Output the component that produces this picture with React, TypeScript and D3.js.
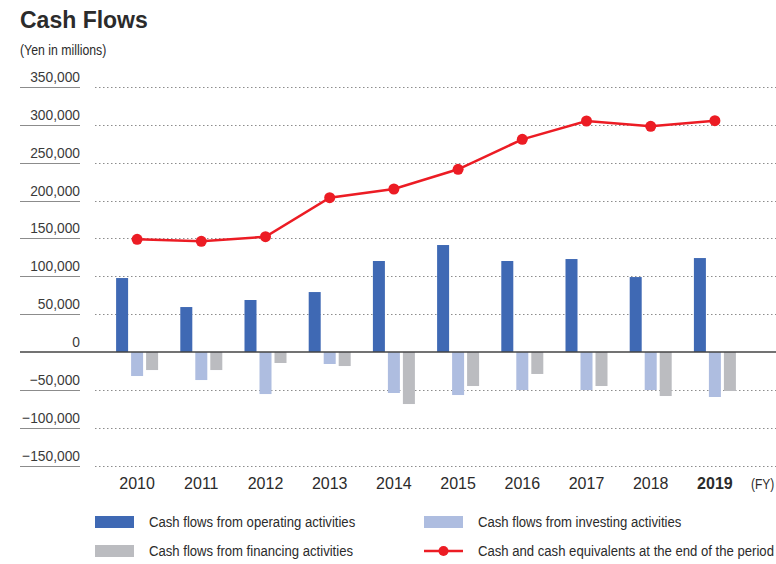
import { useEffect, useRef } from "react";
import * as d3 from "d3";

const years = ["2010", "2011", "2012", "2013", "2014", "2015", "2016", "2017", "2018", "2019"];
const operating = [97700, 59400, 68700, 79200, 120200, 141300, 120200, 122800, 99000, 124100];
const investing = [-31700, -37000, -55500, -15800, -54100, -56800, -50200, -50200, -50200, -59400];
const financing = [-23800, -23800, -14500, -18500, -68700, -44900, -29000, -44900, -58100, -51500];
const cashEnd = [148900, 146200, 152300, 203800, 215300, 241300, 280900, 305100, 298100, 305500];
const yTicks = [350000, 300000, 250000, 200000, 150000, 100000, 50000, 0, -50000, -100000, -150000];

const seriesNames = ["operating", "investing", "financing"];
const colors: Record<string, string> = {
  operating: "#3f69b4",
  investing: "#aebde0",
  financing: "#bbbcc0",
  cash: "#ec1c24",
};

export default function App() {
  const ref = useRef<SVGSVGElement>(null);

  useEffect(() => {
    document.body.style.margin = "0";
    if (!ref.current) return;
    const svg = d3.select(ref.current);
    svg.selectAll("*").remove();

    const width = 776;
    const font = "'Liberation Sans', Arial, sans-serif";
    const textColor = "#2b2b2b";

    // condensed-looking text (no narrow font installed)
    const narrowText = (
      sel: d3.Selection<any, unknown, null, undefined>,
      x: number,
      yy: number,
      size: number,
      label: string,
      sx = 0.86
    ) =>
      sel
        .append("text")
        .attr("transform", `translate(${x},${yy}) scale(${sx},1)`)
        .style("font-family", font)
        .style("font-size", `${size}px`)
        .attr("fill", textColor)
        .text(label);

    const x = d3.scaleBand().domain(years).range([105, 747]).padding(0);
    const y = d3.scaleLinear().domain([-150000, 350000]).range([465.6, 87]);
    const inner = d3
      .scaleBand()
      .domain(seriesNames)
      .range([0, 42])
      .paddingInner(0.2)
      .paddingOuter(0);
    const center = (yr: string) => (x(yr) || 0) + x.bandwidth() / 2;

    // title
    svg
      .append("text")
      .attr("x", 20)
      .attr("y", 28)
      .style("font-family", font)
      .style("font-weight", "bold")
      .style("font-size", "23px")
      .attr("fill", textColor)
      .text("Cash Flows");
    narrowText(svg as any, 20, 55, 15, "(Yen in millions)", 0.82);

    // grid + y labels
    const g = svg.append("g");
    yTicks.forEach((t) => {
      const yy = Math.round(y(t)) + 0.5;
      if (t !== 0) {
        g.append("line")
          .attr("x1", 20)
          .attr("x2", 80)
          .attr("y1", yy)
          .attr("y2", yy)
          .attr("stroke", "#8c8c8c")
          .attr("stroke-width", 1.2);
        g.append("line")
          .attr("x1", 95)
          .attr("x2", width)
          .attr("y1", yy)
          .attr("y2", yy)
          .attr("stroke", "#8c8c8c")
          .attr("stroke-width", 1)
          .attr("stroke-dasharray", "1.5,2.5");
      }
      g.append("text")
        .attr("transform", `translate(80,${yy - 6}) scale(0.92,1)`)
        .attr("text-anchor", "end")
        .style("font-family", font)
        .style("font-size", "15px")
        .attr("fill", "#3a3a3a")
        .text(t === 0 ? "0" : d3.format(",")(t));
    });

    // bars
    const barData = years.flatMap((yr, i) => [
      { yr, key: "operating", v: operating[i] },
      { yr, key: "investing", v: investing[i] },
      { yr, key: "financing", v: financing[i] },
    ]);
    svg
      .append("g")
      .selectAll("rect")
      .data(barData)
      .join("rect")
      .attr("x", (d) => center(d.yr) - 21 + (inner(d.key) || 0))
      .attr("y", (d) => y(Math.max(0, d.v)))
      .attr("width", inner.bandwidth())
      .attr("height", (d) => Math.abs(y(d.v) - y(0)))
      .attr("fill", (d) => colors[d.key]);

    // zero line
    svg
      .append("line")
      .attr("x1", 20)
      .attr("x2", width)
      .attr("y1", y(0))
      .attr("y2", y(0))
      .attr("stroke", "#444")
      .attr("stroke-width", 1.3);

    // cash line
    const line = d3
      .line<number>()
      .x((_, i) => center(years[i]))
      .y((d) => y(d));
    svg
      .append("path")
      .datum(cashEnd)
      .attr("d", line)
      .attr("fill", "none")
      .attr("stroke", colors.cash)
      .attr("stroke-width", 2.5);
    svg
      .append("g")
      .selectAll("circle")
      .data(cashEnd)
      .join("circle")
      .attr("cx", (_, i) => center(years[i]))
      .attr("cy", (d) => y(d))
      .attr("r", 5.5)
      .attr("fill", colors.cash);

    // x labels
    svg
      .append("g")
      .selectAll("text")
      .data(years)
      .join("text")
      .attr("x", (d) => center(d))
      .attr("y", 489)
      .attr("text-anchor", "middle")
      .style("font-family", font)
      .style("font-size", "16px")
      .style("font-weight", (d) => (d === "2019" ? "bold" : "normal"))
      .attr("fill", textColor)
      .text((d) => d);
    narrowText(svg as any, 751, 489, 15, "(FY)", 0.8);

    // legend
    const legend = [
      { key: "operating", label: "Cash flows from operating activities", x: 95, y: 522 },
      { key: "investing", label: "Cash flows from investing activities", x: 424, y: 522 },
      { key: "financing", label: "Cash flows from financing activities", x: 95, y: 551 },
      { key: "cash", label: "Cash and cash equivalents at the end of the period", x: 424, y: 551 },
    ];
    const lg = svg.append("g");
    legend.forEach((l) => {
      if (l.key === "cash") {
        lg.append("line")
          .attr("x1", l.x)
          .attr("x2", l.x + 39)
          .attr("y1", l.y)
          .attr("y2", l.y)
          .attr("stroke", colors.cash)
          .attr("stroke-width", 2.5);
        lg.append("circle")
          .attr("cx", l.x + 19.5)
          .attr("cy", l.y)
          .attr("r", 5)
          .attr("fill", colors.cash);
      } else {
        lg.append("rect")
          .attr("x", l.x)
          .attr("y", l.y - 6)
          .attr("width", 39)
          .attr("height", 12)
          .attr("fill", colors[l.key]);
      }
      narrowText(lg as any, l.x + 54, l.y + 5, 15, l.label, 0.875);
    });
  }, []);

  return <svg ref={ref} width={776} height={564} style={{ display: "block" }} />;
}
